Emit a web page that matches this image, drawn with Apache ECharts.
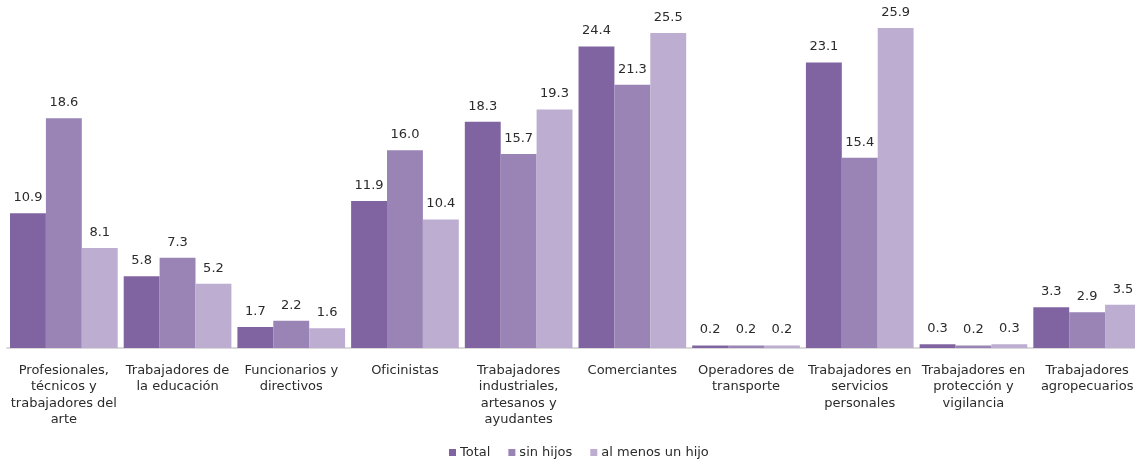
<!DOCTYPE html>
<html lang="es">
<head>
<meta charset="utf-8">
<title>Ocupación por condición de hijos</title>
<script src="https://cdn.jsdelivr.net/npm/echarts@6/dist/echarts.min.js"></script>
<style>
  html, body { margin: 0; padding: 0; background: #fff; overflow: hidden; }
  /* algo más ancho que la ventana: el último grupo queda recortado como en el original */
  #main { width: 1144px; height: 461px; }
</style>
</head>
<body>
<div id="main"></div>
<script>
// categorías (eje x)
var categorias = [
    'Profesionales,\ntécnicos y\ntrabajadores del\narte',
    'Trabajadores de\nla educación',
    'Funcionarios y\ndirectivos',
    'Oficinistas',
    'Trabajadores\nindustriales,\nartesanos y\nayudantes',
    'Comerciantes',
    'Operadores de\ntransporte',
    'Trabajadores en\nservicios\npersonales',
    'Trabajadores en\nprotección y\nvigilancia',
    'Trabajadores\nagropecuarios'
];
var total      = [10.9, 5.8, 1.7, 11.9, 18.3, 24.4, 0.2, 23.1, 0.3, 3.3];
var sinHijos   = [18.6, 7.3, 2.2, 16.0, 15.7, 21.3, 0.2, 15.4, 0.2, 2.9];
var alMenosUno = [8.1, 5.2, 1.6, 10.4, 19.3, 25.5, 0.2, 25.9, 0.3, 3.5];

var colores = ['#8064a2', '#9a83b5', '#bcadd1'];
var fuente = '"DejaVu Sans", Arial, sans-serif';

var myChart = echarts.init(document.getElementById('main'));

function serie(nombre, datos) {
    return {
        name: nombre,
        type: 'bar',
        data: datos,
        barGap: '0%',
        barCategoryGap: '5.3%',
        label: {
            show: true,
            position: 'top',
            distance: 9,
            color: '#2b2b2b',
            fontFamily: fuente,
            fontSize: 13,
            formatter: function (p) { return p.value.toFixed(1); }
        }
    };
}

myChart.setOption({
    animation: false,
    color: colores,
    grid: { left: 7, right: 0, top: 2, bottom: 113, containLabel: false },
    legend: {
        top: 441,
        left: 444,
        itemWidth: 7,
        itemHeight: 7,
        itemGap: 18,
        icon: 'rect',
        textStyle: { color: '#2b2b2b', fontFamily: fuente, fontSize: 13, padding: [0, 0, 0, -1] },
        data: ['Total', 'sin hijos', 'al menos un hijo']
    },
    xAxis: {
        type: 'category',
        data: categorias,
        axisLine: { lineStyle: { color: '#d9d9d9', width: 2 } },
        axisTick: { show: false },
        axisLabel: {
            interval: 0,
            margin: 14,
            color: '#2b2b2b',
            fontFamily: fuente,
            fontSize: 13,
            lineHeight: 16.5
        }
    },
    yAxis: {
        type: 'value',
        min: 0,
        max: 28,
        show: false
    },
    series: [
        serie('Total', total),
        serie('sin hijos', sinHijos),
        serie('al menos un hijo', alMenosUno)
    ]
});
</script>
</body>
</html>
